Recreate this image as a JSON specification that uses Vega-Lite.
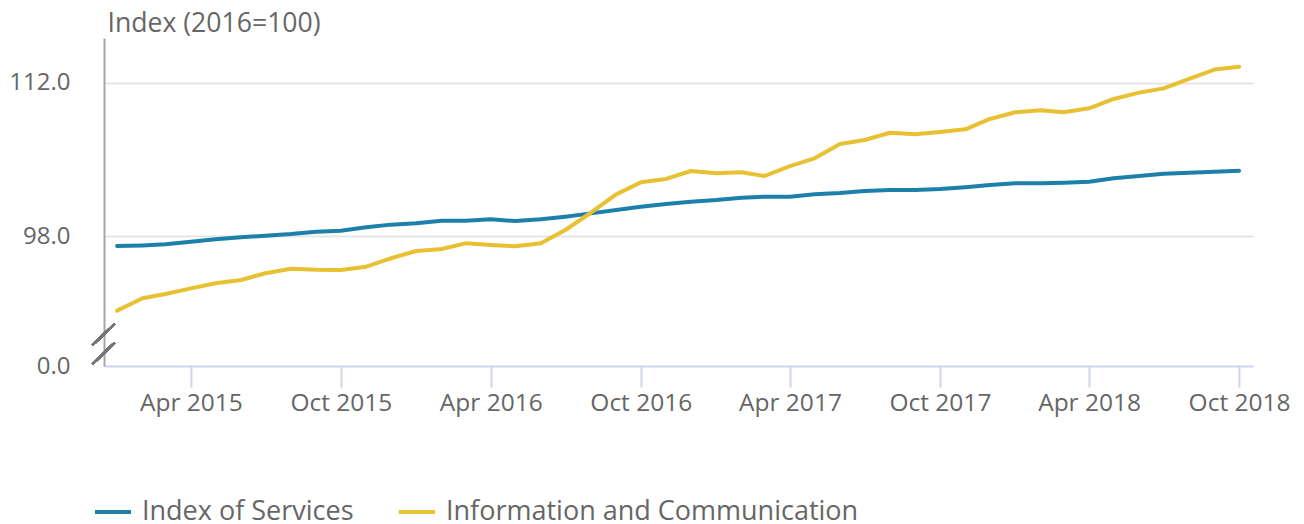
{
  "$schema": "https://vega.github.io/schema/vega-lite/v6.json",
  "width": 1149,
  "height": 328,
  "autosize": {"type": "none"},
  "padding": {"left": 104, "top": 38, "right": 51, "bottom": 158},
  "background": "white",
  "config": {
    "font": "Open Sans",
    "view": {"stroke": null},
    "legend": {
      "orient": "none",
      "direction": "horizontal",
      "legendX": -11,
      "legendY": 454,
      "title": null,
      "padding": 0,
      "symbolType": "stroke",
      "symbolSize": 1296,
      "symbolStrokeWidth": 4,
      "labelFontSize": 27,
      "labelColor": "#666666",
      "labelOffset": 9,
      "labelLimit": 0,
      "columnPadding": 37
    }
  },
  "data": {
    "values": [
      {"date": "2015-01-01", "series": "Index of Services", "value": 97.08},
      {"date": "2015-02-01", "series": "Index of Services", "value": 97.14},
      {"date": "2015-03-01", "series": "Index of Services", "value": 97.24},
      {"date": "2015-04-01", "series": "Index of Services", "value": 97.48},
      {"date": "2015-05-01", "series": "Index of Services", "value": 97.70},
      {"date": "2015-06-01", "series": "Index of Services", "value": 97.88},
      {"date": "2015-07-01", "series": "Index of Services", "value": 98.03},
      {"date": "2015-08-01", "series": "Index of Services", "value": 98.18},
      {"date": "2015-09-01", "series": "Index of Services", "value": 98.39},
      {"date": "2015-10-01", "series": "Index of Services", "value": 98.49},
      {"date": "2015-11-01", "series": "Index of Services", "value": 98.80},
      {"date": "2015-12-01", "series": "Index of Services", "value": 99.04},
      {"date": "2016-01-01", "series": "Index of Services", "value": 99.16},
      {"date": "2016-02-01", "series": "Index of Services", "value": 99.40},
      {"date": "2016-03-01", "series": "Index of Services", "value": 99.40},
      {"date": "2016-04-01", "series": "Index of Services", "value": 99.53},
      {"date": "2016-05-01", "series": "Index of Services", "value": 99.37},
      {"date": "2016-06-01", "series": "Index of Services", "value": 99.53},
      {"date": "2016-07-01", "series": "Index of Services", "value": 99.77},
      {"date": "2016-08-01", "series": "Index of Services", "value": 100.07},
      {"date": "2016-09-01", "series": "Index of Services", "value": 100.38},
      {"date": "2016-10-01", "series": "Index of Services", "value": 100.68},
      {"date": "2016-11-01", "series": "Index of Services", "value": 100.93},
      {"date": "2016-12-01", "series": "Index of Services", "value": 101.14},
      {"date": "2017-01-01", "series": "Index of Services", "value": 101.29},
      {"date": "2017-02-01", "series": "Index of Services", "value": 101.50},
      {"date": "2017-03-01", "series": "Index of Services", "value": 101.60},
      {"date": "2017-04-01", "series": "Index of Services", "value": 101.60},
      {"date": "2017-05-01", "series": "Index of Services", "value": 101.81},
      {"date": "2017-06-01", "series": "Index of Services", "value": 101.93},
      {"date": "2017-07-01", "series": "Index of Services", "value": 102.12},
      {"date": "2017-08-01", "series": "Index of Services", "value": 102.21},
      {"date": "2017-09-01", "series": "Index of Services", "value": 102.21},
      {"date": "2017-10-01", "series": "Index of Services", "value": 102.29},
      {"date": "2017-11-01", "series": "Index of Services", "value": 102.46},
      {"date": "2017-12-01", "series": "Index of Services", "value": 102.67},
      {"date": "2018-01-01", "series": "Index of Services", "value": 102.82},
      {"date": "2018-02-01", "series": "Index of Services", "value": 102.82},
      {"date": "2018-03-01", "series": "Index of Services", "value": 102.88},
      {"date": "2018-04-01", "series": "Index of Services", "value": 102.97},
      {"date": "2018-05-01", "series": "Index of Services", "value": 103.28},
      {"date": "2018-06-01", "series": "Index of Services", "value": 103.49},
      {"date": "2018-07-01", "series": "Index of Services", "value": 103.70},
      {"date": "2018-08-01", "series": "Index of Services", "value": 103.79},
      {"date": "2018-09-01", "series": "Index of Services", "value": 103.88},
      {"date": "2018-10-01", "series": "Index of Services", "value": 103.97},
      {"date": "2015-01-01", "series": "Information and Communication", "value": 91.17},
      {"date": "2015-02-01", "series": "Information and Communication", "value": 92.30},
      {"date": "2015-03-01", "series": "Information and Communication", "value": 92.69},
      {"date": "2015-04-01", "series": "Information and Communication", "value": 93.21},
      {"date": "2015-05-01", "series": "Information and Communication", "value": 93.67},
      {"date": "2015-06-01", "series": "Information and Communication", "value": 93.97},
      {"date": "2015-07-01", "series": "Information and Communication", "value": 94.59},
      {"date": "2015-08-01", "series": "Information and Communication", "value": 95.01},
      {"date": "2015-09-01", "series": "Information and Communication", "value": 94.92},
      {"date": "2015-10-01", "series": "Information and Communication", "value": 94.89},
      {"date": "2015-11-01", "series": "Information and Communication", "value": 95.19},
      {"date": "2015-12-01", "series": "Information and Communication", "value": 95.96},
      {"date": "2016-01-01", "series": "Information and Communication", "value": 96.63},
      {"date": "2016-02-01", "series": "Information and Communication", "value": 96.81},
      {"date": "2016-03-01", "series": "Information and Communication", "value": 97.33},
      {"date": "2016-04-01", "series": "Information and Communication", "value": 97.18},
      {"date": "2016-05-01", "series": "Information and Communication", "value": 97.06},
      {"date": "2016-06-01", "series": "Information and Communication", "value": 97.33},
      {"date": "2016-07-01", "series": "Information and Communication", "value": 98.55},
      {"date": "2016-08-01", "series": "Information and Communication", "value": 100.13},
      {"date": "2016-09-01", "series": "Information and Communication", "value": 101.81},
      {"date": "2016-10-01", "series": "Information and Communication", "value": 102.91},
      {"date": "2016-11-01", "series": "Information and Communication", "value": 103.22},
      {"date": "2016-12-01", "series": "Information and Communication", "value": 103.95},
      {"date": "2017-01-01", "series": "Information and Communication", "value": 103.74},
      {"date": "2017-02-01", "series": "Information and Communication", "value": 103.83},
      {"date": "2017-03-01", "series": "Information and Communication", "value": 103.49},
      {"date": "2017-04-01", "series": "Information and Communication", "value": 104.40},
      {"date": "2017-05-01", "series": "Information and Communication", "value": 105.11},
      {"date": "2017-06-01", "series": "Information and Communication", "value": 106.42},
      {"date": "2017-07-01", "series": "Information and Communication", "value": 106.78},
      {"date": "2017-08-01", "series": "Information and Communication", "value": 107.45},
      {"date": "2017-09-01", "series": "Information and Communication", "value": 107.30},
      {"date": "2017-10-01", "series": "Information and Communication", "value": 107.52},
      {"date": "2017-11-01", "series": "Information and Communication", "value": 107.76},
      {"date": "2017-12-01", "series": "Information and Communication", "value": 108.71},
      {"date": "2018-01-01", "series": "Information and Communication", "value": 109.32},
      {"date": "2018-02-01", "series": "Information and Communication", "value": 109.50},
      {"date": "2018-03-01", "series": "Information and Communication", "value": 109.32},
      {"date": "2018-04-01", "series": "Information and Communication", "value": 109.68},
      {"date": "2018-05-01", "series": "Information and Communication", "value": 110.54},
      {"date": "2018-06-01", "series": "Information and Communication", "value": 111.12},
      {"date": "2018-07-01", "series": "Information and Communication", "value": 111.51},
      {"date": "2018-08-01", "series": "Information and Communication", "value": 112.37},
      {"date": "2018-09-01", "series": "Information and Communication", "value": 113.23},
      {"date": "2018-10-01", "series": "Information and Communication", "value": 113.48}
    ]
  },
  "layer": [
    {
      "mark": {"type": "line", "strokeWidth": 4, "strokeCap": "round", "strokeJoin": "round"},
      "encoding": {
        "x": {
          "field": "date",
          "type": "temporal",
          "scale": {
            "type": "utc",
            "domain": [
              {"year": 2014, "month": 12, "date": 16, "utc": true},
              {"year": 2018, "month": 10, "date": 18, "utc": true}
            ]
          },
          "axis": {
            "title": null,
            "values": [
              {"year": 2015, "month": 4, "date": 1, "utc": true},
              {"year": 2015, "month": 10, "date": 1, "utc": true},
              {"year": 2016, "month": 4, "date": 1, "utc": true},
              {"year": 2016, "month": 10, "date": 1, "utc": true},
              {"year": 2017, "month": 4, "date": 1, "utc": true},
              {"year": 2017, "month": 10, "date": 1, "utc": true},
              {"year": 2018, "month": 4, "date": 1, "utc": true},
              {"year": 2018, "month": 10, "date": 1, "utc": true}
            ],
            "format": "%b %Y",
            "grid": false,
            "domainColor": "#cdd6e8",
            "domainWidth": 2,
            "tickColor": "#cdd6e8",
            "tickWidth": 2,
            "tickSize": 21,
            "labelFontSize": 24.5,
            "labelColor": "#666666",
            "labelPadding": 4,
            "labelFlush": false,
            "labelOverlap": false
          }
        },
        "y": {
          "field": "value",
          "type": "quantitative",
          "scale": {"domain": [86.105, 116.117], "zero": false, "nice": false},
          "axis": {
            "title": "Index (2016=100)",
            "titleAngle": 0,
            "titleAlign": "left",
            "titleBaseline": "alphabetic",
            "titleX": 3,
            "titleY": -7,
            "titleFontSize": 26.6,
            "titleFontWeight": "normal",
            "titleColor": "#666666",
            "values": [86.105, 98, 112],
            "labelExpr": "datum.value < 90 ? '0.0' : format(datum.value, '.1f')",
            "labelFontSize": 24,
            "labelColor": "#666666",
            "labelPadding": 34,
            "ticks": false,
            "tickSize": 0,
            "domainColor": "#a6a6a6",
            "domainWidth": 2,
            "grid": true,
            "gridColor": {"condition": {"test": "datum.value < 90", "value": "transparent"}, "value": "#e6e6e6"},
            "gridWidth": 2
          }
        },
        "color": {
          "field": "series",
          "type": "nominal",
          "scale": {
            "domain": ["Index of Services", "Information and Communication"],
            "range": ["#1c80ab", "#e8c133"]
          }
        }
      }
    },
    {
      "mark": {"type": "rule", "stroke": "#777777", "strokeWidth": 2, "clip": false},
      "encoding": {
        "x": {"datum": {"year": 2014, "month": 12, "date": 2, "utc": true}, "type": "temporal"},
        "x2": {"datum": {"year": 2014, "month": 12, "date": 29, "utc": true}},
        "y": {"datum": 88.03, "type": "quantitative"},
        "y2": {"datum": 89.95}
      }
    },
    {
      "mark": {"type": "rule", "stroke": "#777777", "strokeWidth": 2, "clip": false},
      "encoding": {
        "x": {"datum": {"year": 2014, "month": 12, "date": 2, "utc": true}, "type": "temporal"},
        "x2": {"datum": {"year": 2014, "month": 12, "date": 29, "utc": true}},
        "y": {"datum": 86.29, "type": "quantitative"},
        "y2": {"datum": 88.24}
      }
    }
  ]
}
